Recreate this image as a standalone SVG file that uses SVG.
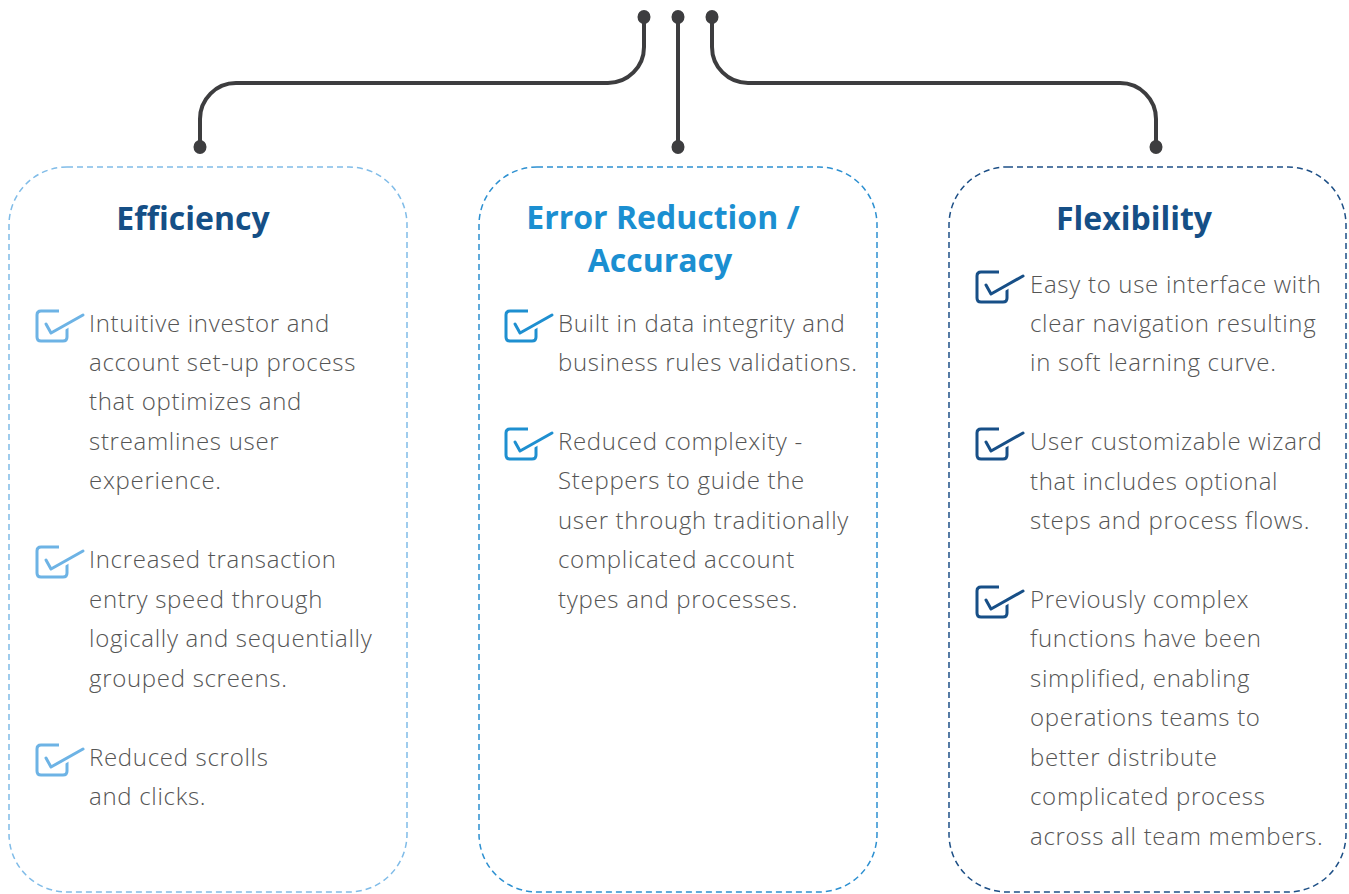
<svg xmlns="http://www.w3.org/2000/svg" width="1349" height="894" viewBox="0 0 1349 894">
<style>
.box{fill:none;stroke-width:1.5;stroke-dasharray:6 4}
.title{font-family:"Open Sans","Liberation Sans",sans-serif;font-weight:700;font-size:32px;text-anchor:middle}
.body{font-family:"Open Sans","Liberation Sans",sans-serif;font-weight:300;font-size:24px;letter-spacing:0.7px;fill:#555}
.conn{fill:none;stroke:#3d3d3f;stroke-width:4}
.dot{fill:#3d3d3f}
</style>
<defs>
<g id="chk">
<path d="M22,0 H4 Q0,0 0,4 V26 Q0,30 4,30 H26 Q30,30 30,26 V12" fill="none" stroke-width="3"/>
<path d="M9,13 L14,22 L46,4" fill="none" stroke="#fff" stroke-width="8"/>
<path d="M9,13 L14,22 L46,4" fill="none" stroke-width="3" stroke-linecap="round" stroke-linejoin="round"/>
</g>
</defs>
<g id="connectors">
<path class="conn" d="M644,17 V47 A36,36 0 0 1 608,83 H236 A36,36 0 0 0 200,119 V147"/>
<path class="conn" d="M678,17 V147"/>
<path class="conn" d="M712,17 V47 A36,36 0 0 0 748,83 H1120 A36,36 0 0 1 1156,119 V147"/>
<ellipse class="dot" cx="644" cy="17" rx="6.5" ry="7"/>
<ellipse class="dot" cx="678" cy="17" rx="6.5" ry="7"/>
<ellipse class="dot" cx="712" cy="17" rx="6.5" ry="7"/>
<ellipse class="dot" cx="200" cy="147" rx="6.5" ry="7"/>
<ellipse class="dot" cx="678" cy="147" rx="6.5" ry="7"/>
<ellipse class="dot" cx="1156" cy="147" rx="6.5" ry="7"/>
</g>
<g id="efficiency">
<rect class="box" x="9" y="167" width="398" height="725" rx="58" stroke="#80bce8"/>
<text class="title" x="193" y="230" fill="#154f86">Efficiency</text>
<use href="#chk" x="37" y="311" stroke="#6db3e5"/>
<use href="#chk" x="37" y="547" stroke="#6db3e5"/>
<use href="#chk" x="37" y="745" stroke="#6db3e5"/>
<text class="body" x="89" y="332">Intuitive investor and</text>
<text class="body" x="89" y="371">account set-up process</text>
<text class="body" x="89" y="410">that optimizes and</text>
<text class="body" x="89" y="450">streamlines user</text>
<text class="body" x="89" y="489">experience.</text>
<text class="body" x="89" y="568">Increased transaction</text>
<text class="body" x="89" y="608">entry speed through</text>
<text class="body" x="89" y="647">logically and sequentially</text>
<text class="body" x="89" y="687">grouped screens.</text>
<text class="body" x="89" y="766">Reduced scrolls</text>
<text class="body" x="89" y="805">and clicks.</text>
</g>
<g id="accuracy">
<rect class="box" x="479" y="167" width="398" height="725" rx="58" stroke="#2d90d1"/>
<text class="title" x="663" y="229" fill="#1b8fd1">Error Reduction /</text>
<text class="title" x="660" y="272" fill="#1b8fd1">Accuracy</text>
<use href="#chk" x="506" y="311" stroke="#1e8fd0"/>
<use href="#chk" x="506" y="429" stroke="#1e8fd0"/>
<text class="body" x="558" y="332">Built in data integrity and</text>
<text class="body" x="558" y="371">business rules validations.</text>
<text class="body" x="558" y="450">Reduced complexity -</text>
<text class="body" x="558" y="489">Steppers to guide the</text>
<text class="body" x="558" y="529">user through traditionally</text>
<text class="body" x="558" y="568">complicated account</text>
<text class="body" x="558" y="608">types and processes.</text>
</g>
<g id="flexibility">
<rect class="box" x="949" y="167" width="397" height="725" rx="58" stroke="#1d4f86"/>
<text class="title" x="1134" y="230" fill="#154f86">Flexibility</text>
<use href="#chk" x="977" y="272" stroke="#174f87"/>
<use href="#chk" x="977" y="429" stroke="#174f87"/>
<use href="#chk" x="977" y="587" stroke="#174f87"/>
<text class="body" x="1030" y="293">Easy to use interface with</text>
<text class="body" x="1030" y="332">clear navigation resulting</text>
<text class="body" x="1030" y="371">in soft learning curve.</text>
<text class="body" x="1030" y="450">User customizable wizard</text>
<text class="body" x="1030" y="490">that includes optional</text>
<text class="body" x="1030" y="529">steps and process flows.</text>
<text class="body" x="1030" y="608">Previously complex</text>
<text class="body" x="1030" y="647">functions have been</text>
<text class="body" x="1030" y="687">simplified, enabling</text>
<text class="body" x="1030" y="726">operations teams to</text>
<text class="body" x="1030" y="766">better distribute</text>
<text class="body" x="1030" y="805">complicated process</text>
<text class="body" x="1030" y="845">across all team members.</text>
</g>
</svg>
